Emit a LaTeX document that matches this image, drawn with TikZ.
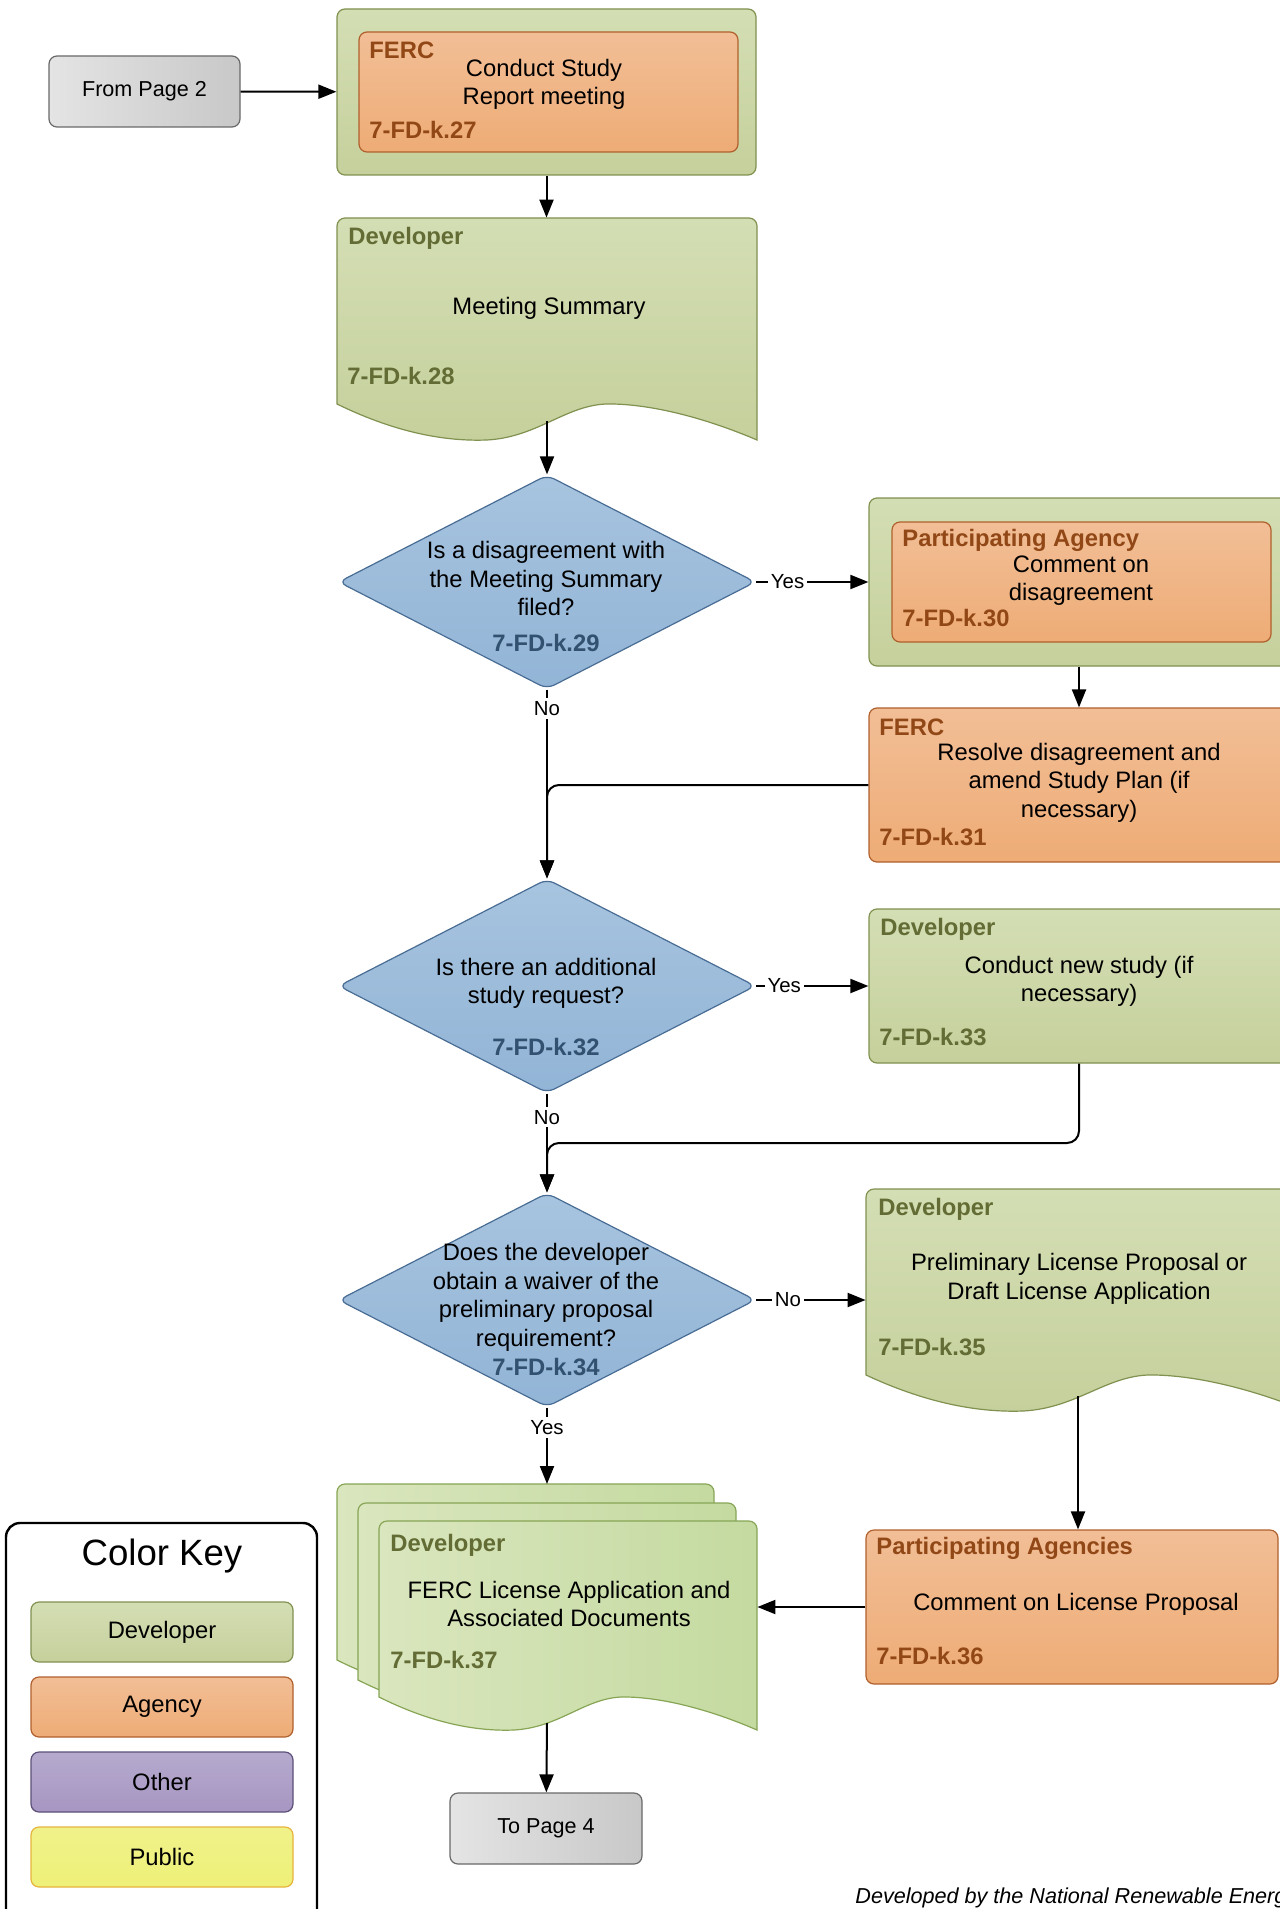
\documentclass[tikz,border=0pt]{standalone}
\usepackage{fontspec}
\setmainfont{Liberation Sans}
\usepackage{xcolor}
\usepackage{tikz}
\usetikzlibrary{shapes.geometric,arrows.meta}

\definecolor{devtop}{RGB}{212,222,180}
\definecolor{devbot}{RGB}{197,208,156}
\definecolor{devline}{RGB}{128,145,80}
\definecolor{devtext}{RGB}{98,108,52}
\definecolor{agtop}{RGB}{242,190,150}
\definecolor{agbot}{RGB}{238,172,118}
\definecolor{agline}{RGB}{176,96,45}
\definecolor{agtext}{RGB}{145,72,22}
\definecolor{dectop}{RGB}{167,196,223}
\definecolor{decbot}{RGB}{146,180,214}
\definecolor{decline}{RGB}{72,108,148}
\definecolor{dectext}{RGB}{50,80,112}
\definecolor{graytop}{RGB}{228,228,228}
\definecolor{graybot}{RGB}{200,200,200}
\definecolor{grayline}{RGB}{105,105,105}
\definecolor{stackl}{RGB}{218,230,190}
\definecolor{stackr}{RGB}{196,218,160}
\definecolor{stackline}{RGB}{135,165,85}
\definecolor{othtop}{RGB}{182,170,206}
\definecolor{othbot}{RGB}{166,150,194}
\definecolor{othline}{RGB}{92,80,120}
\definecolor{pubtop}{RGB}{240,242,138}
\definecolor{pubbot}{RGB}{238,240,120}
\definecolor{publine}{RGB}{230,180,60}

% document sheet with wavy bottom: width, left height, dip
\newcommand{\docpath}[3]{(0,#2) [rounded corners=4pt] -- (0,0) -- (#1,0) [sharp corners] -- (#1,#2+#3) .. controls (0.9*#1,#2+0.5*#3) and (0.77*#1,#2+0.03*#3) .. (0.657*#1,#2) .. controls (0.55*#1,#2-0.05*#3) and (0.483*#1,#2+0.92*#3) .. (0.357*#1,#2+#3) .. controls (0.245*#1,#2+1.05*#3) and (0.126*#1,#2+0.72*#3) .. (0,#2) -- cycle}

\begin{document}
\begin{tikzpicture}[x=0.5pt,y=-0.5pt,
		every node/.style={font=\fontsize{11.9}{14.3}\selectfont},
		devbox/.style={draw=devline, top color=devtop, bottom color=devbot, rounded corners=4pt, line width=0.6pt, inner sep=0pt},
		agbox/.style={draw=agline, top color=agtop, bottom color=agbot, rounded corners=4pt, line width=0.6pt, inner sep=0pt},
		othbox/.style={draw=othline, top color=othtop, bottom color=othbot, rounded corners=4pt, line width=0.6pt, inner sep=0pt},
		pubbox/.style={draw=publine, top color=pubtop, bottom color=pubbot, rounded corners=4pt, line width=0.6pt, inner sep=0pt},
		pagebox/.style={draw=grayline, left color=graytop, right color=graybot, rounded corners=4pt, line width=0.6pt, inner sep=0pt, font=\fontsize{10.8}{13}\selectfont},
		decision/.style={diamond, draw=decline, top color=dectop, bottom color=decbot, rounded corners=4pt, line width=0.6pt, inner sep=0pt, minimum width=208.5pt, minimum height=107pt},
		devdoc/.style={draw=devline, top color=devtop, bottom color=devbot, line width=0.6pt},
		stackdoc/.style={draw=stackline, left color=stackl, right color=stackr, line width=0.6pt},
		body/.style={align=center, inner sep=0pt},
		devlbl/.style={anchor=west, inner sep=0pt, text=devtext, font=\fontsize{11.9}{14.3}\selectfont\bfseries},
		aglbl/.style={anchor=west, inner sep=0pt, text=agtext, font=\fontsize{11.9}{14.3}\selectfont\bfseries},
		declbl/.style={inner sep=0pt, text=dectext, font=\fontsize{11.9}{14.3}\selectfont\bfseries},
		line/.style={line width=1pt, -{Triangle[length=9pt,width=7pt]}},
		answer/.style={fill=white, inner sep=1.5pt, font=\fontsize{10.2}{12}\selectfont}]
	\path[fill=white, use as bounding box] (0,0) rectangle (1279,1909);

	% From page 2 and 7-FD-k.27
	\node[pagebox, minimum width=95.5pt, minimum height=35.5pt] (from2) at (144.5,91.5) {From Page 2};
	\node[devbox, minimum width=209.5pt, minimum height=83pt] (grp27) at (546.5,92) {};
	\node[agbox, minimum width=189.5pt, minimum height=60pt] (ferc27) at (548.5,92) {};
	\node[aglbl] (ferc27who) at (369,50) {FERC};
	\node[body] (ferc27txt) at (544,84.5) {Conduct Study\\Report meeting};
	\node[aglbl] (ferc27id) at (369,130) {7-FD-k.27};

	% 7-FD-k.28
	\begin{scope}[shift={(337,218)}]
		\draw[devdoc] \docpath{420}{186}{36};
	\end{scope}
	\node[minimum width=210pt, minimum height=93pt, inner sep=0pt] (doc28) at (547,311) {};
	\coordinate (doc28b) at (547,421);
	\node[devlbl] (doc28who) at (348,238) {Developer};
	\node[body] (doc28txt) at (549,308) {Meeting Summary};
	\node[devlbl] (doc28id) at (347,376) {7-FD-k.28};

	% 7-FD-k.29 and 7-FD-k.30
	\node[decision] (dia29) at (547,582) {};
	\node[body] (dia29txt) at (546,578.5) {Is a disagreement with\\the Meeting Summary\\filed?};
	\node[declbl] (dia29id) at (546,643) {7-FD-k.29};
	\node[devbox, minimum width=210pt, minimum height=84pt] (grp30) at (1079,582) {};
	\node[agbox, minimum width=189.5pt, minimum height=60pt] (ag30) at (1081.5,582) {};
	\node[aglbl] (ag30who) at (902,540) {Participating Agency};
	\node[body] (ag30txt) at (1081,580.5) {Comment on\\disagreement};
	\node[aglbl] (ag30id) at (902,618) {7-FD-k.30};

	% 7-FD-k.31
	\node[agbox, minimum width=210pt, minimum height=77pt] (ferc31) at (1079,785) {};
	\node[aglbl] (ferc31who) at (879,727) {FERC};
	\node[body] (ferc31txt) at (1079,782.5) {Resolve disagreement and\\amend Study Plan (if\\necessary)};
	\node[aglbl] (ferc31id) at (879,837) {7-FD-k.31};

	% 7-FD-k.32 and 7-FD-k.33
	\node[decision] (dia32) at (547,986) {};
	\node[body] (dia32txt) at (546,983.5) {Is there an additional\\study request?};
	\node[declbl] (dia32id) at (546,1047) {7-FD-k.32};
	\node[devbox, minimum width=210pt, minimum height=77pt] (dev33) at (1079,986) {};
	\node[devlbl] (dev33who) at (880,929) {Developer};
	\node[body] (dev33txt) at (1079,981.5) {Conduct new study (if\\necessary)};
	\node[devlbl] (dev33id) at (879,1037) {7-FD-k.33};

	% 7-FD-k.34 and 7-FD-k.35
	\node[decision] (dia34) at (547,1300) {};
	\node[body] (dia34txt) at (546,1297.5) {Does the developer\\obtain a waiver of the\\preliminary proposal\\requirement?};
	\node[declbl] (dia34id) at (546,1367) {7-FD-k.34};
	\begin{scope}[shift={(866,1189)}]
		\draw[devdoc] \docpath{440}{186}{36};
	\end{scope}
	\node[minimum width=220pt, minimum height=93pt, inner sep=0pt] (doc35) at (1086,1282) {};
	\coordinate (doc35b) at (1078,1396);
	\node[devlbl] (doc35who) at (878,1209) {Developer};
	\node[body] (doc35txt) at (1079,1279) {Preliminary License Proposal or\\Draft License Application};
	\node[devlbl] (doc35id) at (878,1347) {7-FD-k.35};

	% 7-FD-k.36
	\node[agbox, minimum width=206pt, minimum height=77pt] (ag36) at (1072,1607) {};
	\node[aglbl] (ag36who) at (876,1548) {Participating Agencies};
	\node[body] (ag36txt) at (1076,1604) {Comment on License Proposal};
	\node[aglbl] (ag36id) at (876,1656) {7-FD-k.36};

	% 7-FD-k.37, three sheets
	\begin{scope}[shift={(337,1484)}]
		\draw[stackdoc] \docpath{377}{176}{33};
	\end{scope}
	\begin{scope}[shift={(358,1503)}]
		\draw[stackdoc] \docpath{378}{177}{33};
	\end{scope}
	\begin{scope}[shift={(379,1521)}]
		\draw[stackdoc] \docpath{378}{176}{33};
	\end{scope}
	\node[minimum width=189pt, minimum height=88pt, inner sep=0pt] (doc37) at (568,1609) {};
	\coordinate (stack37) at (547,1484);
	\coordinate (doc37b) at (547,1723);
	\node[devlbl] (doc37who) at (390,1545) {Developer};
	\node[body] (doc37txt) at (569,1604) {FERC License Application and\\Associated Documents};
	\node[devlbl] (doc37id) at (390,1660) {7-FD-k.37};
	\node[pagebox, minimum width=96pt, minimum height=35.5pt] (to4) at (546,1828.5) {To Page 4};

	% connectors
	\coordinate (join34) at (547,1143);
	\draw[line] (from2) -- (grp27);
	\draw[line] (grp27.south) -- (grp27.south |- doc28.north);
	\draw[line] (doc28b) -- (dia29);
	\draw[line] (dia29) -- node[answer, pos=0.28] (yes29) {Yes} (grp30);
	\draw[line] (dia29) -- node[answer, pos=0.1] (no29) {No} (dia32);
	\draw[line] (grp30) -- (ferc31);
	\draw[line, rounded corners=6pt] (ferc31.west) -| (dia32.north);
	\draw[line] (dia32) -- node[answer, pos=0.25] (yes32) {Yes} (dev33);
	\draw[line] (dia32) -- node[answer, pos=0.24] (no32) {No} (dia34);
	\draw[line, rounded corners=6pt] (dev33.south) |- (join34) -- (dia34.north);
	\draw[line] (dia34.east) -- node[answer, pos=0.29] (no34) {No} (dia34.east -| doc35.west);
	\draw[line] (doc35b) -- (doc35b |- ag36.north);
	\draw[line] (ag36.west) -- (ag36.west -| doc37.east);
	\draw[line] (dia34) -- node[answer, pos=0.26] (yes34) {Yes} (stack37);
	\draw[line] (doc37b) -- (to4);

	% color key
	\draw[line width=1.2pt, rounded corners=7pt] (6,1523) rectangle (317,1960);
	\node[font=\fontsize{18.3}{22}\selectfont] (keyttl) at (162,1556) {Color Key};
	\foreach \name/\y/\sty in {Developer/1632/devbox, Agency/1707/agbox, Other/1782/othbox, Public/1857/pubbox}
		\node[\sty, minimum width=131pt, minimum height=30pt] (key\name) at (162,\y) {\name};

	\node[anchor=base west, inner sep=0pt, font=\fontsize{10.8}{13}\selectfont\itshape] (credit) at (855,1903) {Developed by the National Renewable Energy Laboratory};
\end{tikzpicture}
\end{document}
